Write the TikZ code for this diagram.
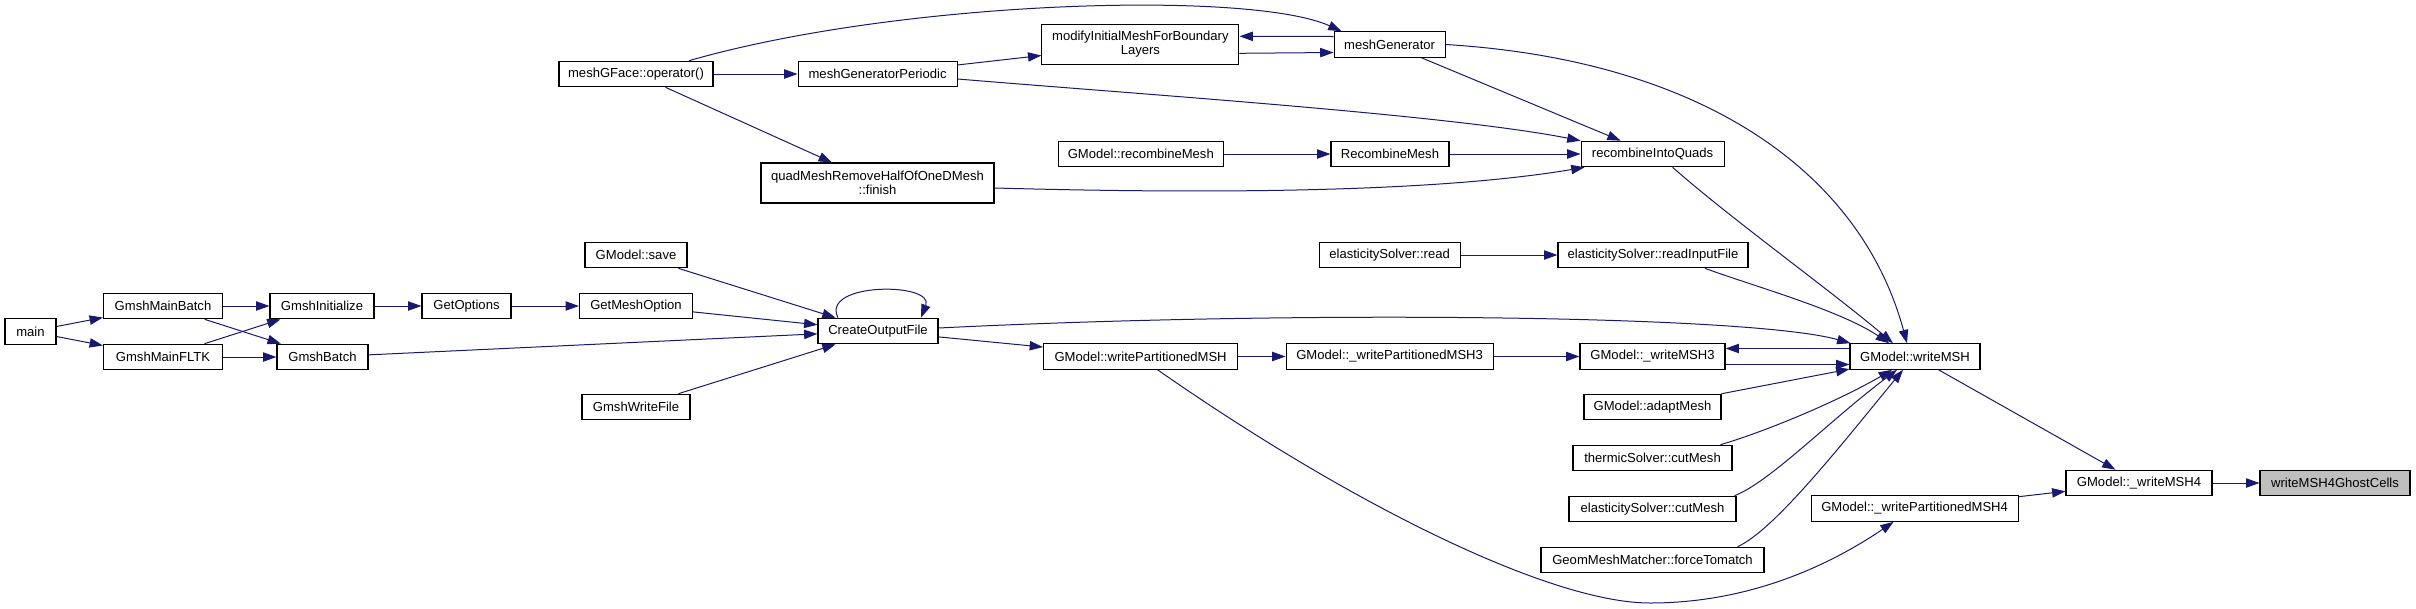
\documentclass[tikz,border=0pt]{standalone}
\usepackage{fontspec}
\setmainfont{Liberation Sans}
\usetikzlibrary{arrows.meta,calc}
\definecolor{edgeblue}{RGB}{25,25,112}
\begin{document}
\begin{tikzpicture}[x=0.75pt,y=-0.75pt,
  fn/.style={draw=black, line width=0.85pt, fill=white, minimum height=25.5*0.75pt,
     inner sep=0pt, font=\fontsize{9.8}{10.5}\selectfont, align=center},
  bw/.style={minimum width=#1*0.75pt},
  two/.style={minimum height=40*0.75pt},
  call/.style={draw=edgeblue, line width=0.75pt, -{Triangle[length=10pt,width=7pt]}}]
\useasboundingbox (0,0) rectangle (2416,608);
% nodes
\node[fn,bw=51]  (main) at (30.5,331.5) {main};
\node[fn,bw=119] (gmb) at (163,306) {GmshMainBatch};
\node[fn,bw=119] (gmf) at (163,357) {GmshMainFLTK};
\node[fn,bw=104] (gi) at (322,306) {GmshInitialize};
\node[fn,bw=91]  (gb) at (322.5,357) {GmshBatch};
\node[fn,bw=89]  (go) at (466.5,306) {GetOptions};
\node[fn,bw=113] (gmo) at (636,306) {GetMeshOption};
\node[fn,bw=102] (gsave) at (636,255) {GModel::save};
\node[fn,bw=108] (gwf) at (636,407) {GmshWriteFile};
\node[fn,bw=154] (mgf) at (636,74) {meshGFace::operator()};
\node[fn,bw=159] (mgp) at (877.6,74) {meshGeneratorPeriodic};
\node[fn,bw=233,two] (qf) at (877.5,183) {quadMeshRemoveHalfOfOneDMesh\\::finish};
\node[fn,bw=120] (cof) at (878,331) {CreateOutputFile};
\node[fn,bw=197,two] (mod) at (1140.4,44.3) {modifyInitialMeshForBoundary\\Layers};
\node[fn,bw=165] (grm) at (1140.8,154) {GModel::recombineMesh};
\node[fn,bw=194] (wp) at (1140.6,356.5) {GModel::writePartitionedMSH};
\node[fn,bw=111] (mg) at (1389.6,44.5) {meshGenerator};
\node[fn,bw=118] (rm) at (1390,154) {RecombineMesh};
\node[fn,bw=141] (esr) at (1389.6,255) {elasticitySolver::read};
\node[fn,bw=207] (wp3) at (1389.6,356.5) {GModel::\_writePartitionedMSH3};
\node[fn,bw=143] (rq) at (1652.6,154) {recombineIntoQuads};
\node[fn,bw=190] (rif) at (1653,255) {elasticitySolver::readInputFile};
\node[fn,bw=145] (w3) at (1652.5,356.5) {GModel::\_writeMSH3};
\node[fn,bw=137] (am) at (1652.5,407) {GModel::adaptMesh};
\node[fn,bw=159] (tc) at (1652.5,458) {thermicSolver::cutMesh};
\node[fn,bw=167] (ec) at (1652.5,509) {elasticitySolver::cutMesh};
\node[fn,bw=223] (fm) at (1652.5,560) {GeomMeshMatcher::forceTomatch};
\node[fn,bw=130] (wm) at (1915,356.5) {GModel::writeMSH};
\node[fn,bw=207] (wp4) at (1914.6,508.5) {GModel::\_writePartitionedMSH4};
\node[fn,bw=146] (w4) at (2139,483) {GModel::\_writeMSH4};
\node[fn,bw=150,fill=gray!50] (ghost) at (2335,483) {writeMSH4GhostCells};
% edges
\draw[call] (main) -- (gmb);
\draw[call] (main) -- (gmf);
\draw[call] (gmb) -- (gi);
\draw[call] (gmb) -- (gb);
\draw[call] (gmf) -- (gi);
\draw[call] (gmf) -- (gb);
\draw[call] (gi) -- (go);
\draw[call] (go) -- (gmo);
\draw[call] (gmo) -- (cof);
\draw[call] (gsave) -- (cof);
\draw[call] (gb) -- (cof);
\draw[call] (gwf) -- (cof);
\draw[call] ($(cof.north)+(-40,0)$) .. controls (820,282) and (935,282) .. ($(cof.north)+(43,0)$);
\draw[call] (cof) -- (wp);
\draw[call] ($(cof.east)+(0,-3)$) .. controls (1300,310) and (1750,315) .. ($(wm.north west)+(1,0)$);
\draw[call] (wp) -- (wp3);
\draw[call] (wp3) -- (w3);
\draw[call] ($(w3.east)+(0,8)$) -- ($(wm.west)+(0,8)$);
\draw[call] ($(wm.west)+(0,-8)$) -- ($(w3.east)+(0,-8)$);
\draw[call] (am) -- (wm);
\draw[call] ($(tc.north)+(68,0)$) .. controls (1770,430) and (1840,400) .. ($(wm.south)+(-23,0)$);
\draw[call] ($(ec.north)+(82,0)$) .. controls (1770,482) and (1830,420) .. ($(wm.south)+(-18,0)$);
\draw[call] ($(fm.north)+(85,0)$) .. controls (1775,530) and (1845,440) .. ($(wm.south)+(-12,0)$);
\draw[call] ($(rif.south)+(52,0)$) .. controls (1750,285) and (1840,310) .. ($(wm.north)+(-26,0)$);
\draw[call] ($(rq.south)+(20,0)$) .. controls (1730,218) and (1830,290) .. ($(wm.north)+(-22,0)$);
\draw[call] (mg.east) .. controls (1700,60) and (1860,170) .. ($(wm.north)+(-8,0)$);
\draw[call] (wm) -- (w4);
\draw[call] ($(wp.south)+(17,0)$) .. controls (1350,504) and (1550,603) .. (1650,603)
   .. controls (1750,603) and (1830,565) .. ($(wp4.south)+(-21,0)$);
\draw[call] (wp4) -- (w4);
\draw[call] (w4) -- (ghost);
\draw[call] (esr) -- (rif);
\draw[call] (grm) -- (rm);
\draw[call] (rm) -- (rq);
\draw[call] (mgf) -- (mgp);
\draw[call] ($(mgf.north)+(53,0)$) .. controls (900,0) and (1250,-10) .. ($(mg.north west)+(8,0)$);
\draw[call] (mgf) -- (qf);
\draw[call] (mgp) -- (mod);
\draw[call] ($(mgp.east)+(0,5)$) .. controls (1150,95) and (1450,115) .. (rq.north west);
\draw[call] ($(mod.east)+(0,9)$) -- ($(mg.west)+(0,8)$);
\draw[call] ($(mg.west)+(0,-8)$) -- ($(mod.east)+(0,-8)$);
\draw[call] ($(qf.east)+(0,5)$) .. controls (1250,195) and (1450,190) .. ($(rq.south west)+(4,0)$);
\draw[call] (mg) -- (rq);
\end{tikzpicture}
\end{document}
